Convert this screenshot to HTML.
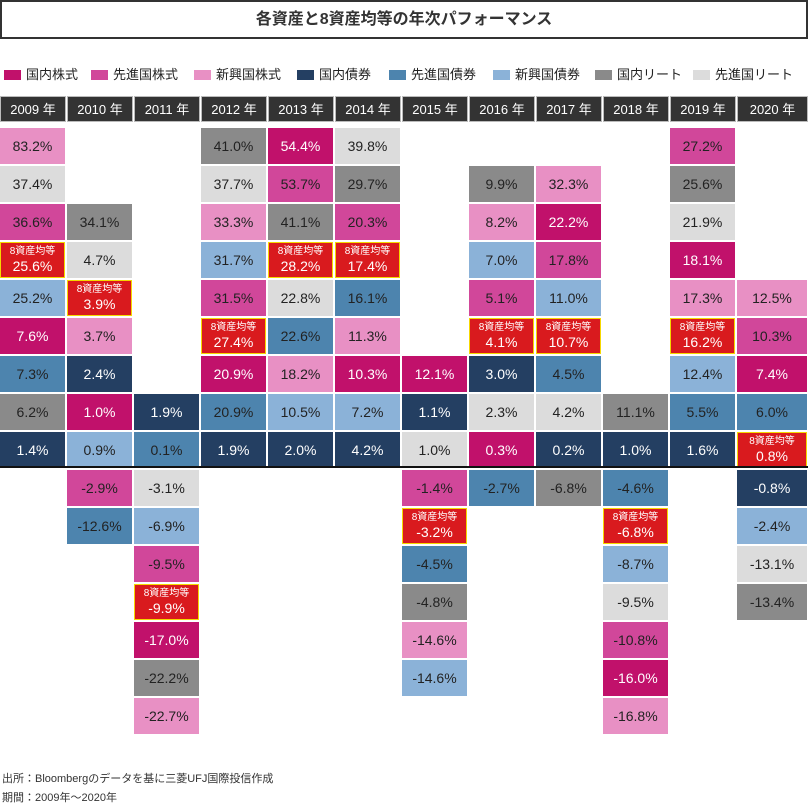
<!DOCTYPE html>
<html><head><meta charset="utf-8">
<style>
*{margin:0;padding:0;box-sizing:border-box}
body{width:808px;height:806px;background:#fff;position:relative;overflow:hidden;font-family:"Liberation Sans","Noto Sans CJK JP",sans-serif;color:#222}
.title{position:absolute;left:0;top:0;width:808px;height:39px;border:2px solid #333;text-align:center;line-height:35px;font-size:16px;font-weight:bold;color:#333}
.lg{position:absolute;top:66px;font-size:13px;line-height:18px;color:#222;white-space:nowrap}
.lg i{display:inline-block;width:17px;height:10px;margin-right:5px;vertical-align:-1px}
.hd{position:absolute;top:96px;height:26px;width:66px;background:#333;color:#fff;font-size:13px;text-align:center;line-height:25px;border:1px solid #bbb}
.col{position:absolute;width:65px}
.p{position:absolute;left:0;top:128px;width:65px}
.n{position:absolute;left:0;top:470px;width:65px}
.c{height:36px;margin-bottom:2px;text-align:center;line-height:36px;font-size:14px;color:#222}
.A{background:#c1116b;color:#fff}.B{background:#d1479a}.C{background:#e890c4}.D{background:#243f62;color:#fff}
.E{background:#4d84ae}.F{background:#8bb2d8}.G{background:#8a8a8a}.H{background:#dcdcdc}
.X{background:#d91a1e;color:#fff;border:1px solid #f5d800;line-height:15px;padding-top:2px}
.X s{display:block;text-decoration:none;font-size:10px;line-height:14px}
.zero{position:absolute;left:0;top:466px;width:808px;height:2px;background:#111}
.ft{position:absolute;left:2px;font-size:11px;color:#333}
</style></head><body>
<div class="title">各資産と8資産均等の年次パフォーマンス</div>
<div class="lg" style="left:4px"><i style="background:#c1116b"></i>国内株式</div>
<div class="lg" style="left:91px"><i style="background:#d1479a"></i>先進国株式</div>
<div class="lg" style="left:194px"><i style="background:#e890c4"></i>新興国株式</div>
<div class="lg" style="left:297px"><i style="background:#243f62"></i>国内債券</div>
<div class="lg" style="left:389px"><i style="background:#4d84ae"></i>先進国債券</div>
<div class="lg" style="left:493px"><i style="background:#8bb2d8"></i>新興国債券</div>
<div class="lg" style="left:595px"><i style="background:#8a8a8a"></i>国内リート</div>
<div class="lg" style="left:693px"><i style="background:#dcdcdc"></i>先進国リート</div>

<div class="hd" style="left:0">2009 年</div>
<div class="hd" style="left:67px">2010 年</div>
<div class="hd" style="left:134px">2011 年</div>
<div class="hd" style="left:201px">2012 年</div>
<div class="hd" style="left:268px">2013 年</div>
<div class="hd" style="left:335px">2014 年</div>
<div class="hd" style="left:402px">2015 年</div>
<div class="hd" style="left:469px">2016 年</div>
<div class="hd" style="left:536px">2017 年</div>
<div class="hd" style="left:603px">2018 年</div>
<div class="hd" style="left:670px">2019 年</div>
<div class="hd" style="left:737px;width:71px">2020 年</div>

<div class="col" style="left:0"><div class="p">
<div class="c C">83.2%</div><div class="c H">37.4%</div><div class="c B">36.6%</div><div class="c X"><s>8資産均等</s>25.6%</div><div class="c F">25.2%</div><div class="c A">7.6%</div><div class="c E">7.3%</div><div class="c G">6.2%</div><div class="c D">1.4%</div>
</div></div>

<div class="col" style="left:67px"><div class="p" style="padding-top:76px">
<div class="c G">34.1%</div><div class="c H">4.7%</div><div class="c X"><s>8資産均等</s>3.9%</div><div class="c C">3.7%</div><div class="c D">2.4%</div><div class="c A">1.0%</div><div class="c F">0.9%</div>
</div><div class="n"><div class="c B">-2.9%</div><div class="c E">-12.6%</div></div></div>

<div class="col" style="left:134px"><div class="p" style="padding-top:266px">
<div class="c D">1.9%</div><div class="c E">0.1%</div>
</div><div class="n"><div class="c H">-3.1%</div><div class="c F">-6.9%</div><div class="c B">-9.5%</div><div class="c X"><s>8資産均等</s>-9.9%</div><div class="c A">-17.0%</div><div class="c G">-22.2%</div><div class="c C">-22.7%</div></div></div>

<div class="col" style="left:201px"><div class="p">
<div class="c G">41.0%</div><div class="c H">37.7%</div><div class="c C">33.3%</div><div class="c F">31.7%</div><div class="c B">31.5%</div><div class="c X"><s>8資産均等</s>27.4%</div><div class="c A">20.9%</div><div class="c E">20.9%</div><div class="c D">1.9%</div>
</div></div>

<div class="col" style="left:268px"><div class="p">
<div class="c A">54.4%</div><div class="c B">53.7%</div><div class="c G">41.1%</div><div class="c X"><s>8資産均等</s>28.2%</div><div class="c H">22.8%</div><div class="c E">22.6%</div><div class="c C">18.2%</div><div class="c F">10.5%</div><div class="c D">2.0%</div>
</div></div>

<div class="col" style="left:335px"><div class="p">
<div class="c H">39.8%</div><div class="c G">29.7%</div><div class="c B">20.3%</div><div class="c X"><s>8資産均等</s>17.4%</div><div class="c E">16.1%</div><div class="c C">11.3%</div><div class="c A">10.3%</div><div class="c F">7.2%</div><div class="c D">4.2%</div>
</div></div>

<div class="col" style="left:402px"><div class="p" style="padding-top:228px">
<div class="c A">12.1%</div><div class="c D">1.1%</div><div class="c H">1.0%</div>
</div><div class="n"><div class="c B">-1.4%</div><div class="c X"><s>8資産均等</s>-3.2%</div><div class="c E">-4.5%</div><div class="c G">-4.8%</div><div class="c C">-14.6%</div><div class="c F">-14.6%</div></div></div>

<div class="col" style="left:469px"><div class="p" style="padding-top:38px">
<div class="c G">9.9%</div><div class="c C">8.2%</div><div class="c F">7.0%</div><div class="c B">5.1%</div><div class="c X"><s>8資産均等</s>4.1%</div><div class="c D">3.0%</div><div class="c H">2.3%</div><div class="c A">0.3%</div>
</div><div class="n"><div class="c E">-2.7%</div></div></div>

<div class="col" style="left:536px"><div class="p" style="padding-top:38px">
<div class="c C">32.3%</div><div class="c A">22.2%</div><div class="c B">17.8%</div><div class="c F">11.0%</div><div class="c X"><s>8資産均等</s>10.7%</div><div class="c E">4.5%</div><div class="c H">4.2%</div><div class="c D">0.2%</div>
</div><div class="n"><div class="c G">-6.8%</div></div></div>

<div class="col" style="left:603px"><div class="p" style="padding-top:266px">
<div class="c G">11.1%</div><div class="c D">1.0%</div>
</div><div class="n"><div class="c E">-4.6%</div><div class="c X"><s>8資産均等</s>-6.8%</div><div class="c F">-8.7%</div><div class="c H">-9.5%</div><div class="c B">-10.8%</div><div class="c A">-16.0%</div><div class="c C">-16.8%</div></div></div>

<div class="col" style="left:670px"><div class="p">
<div class="c B">27.2%</div><div class="c G">25.6%</div><div class="c H">21.9%</div><div class="c A">18.1%</div><div class="c C">17.3%</div><div class="c X"><s>8資産均等</s>16.2%</div><div class="c F">12.4%</div><div class="c E">5.5%</div><div class="c D">1.6%</div>
</div></div>

<div class="col" style="left:737px;width:70px"><div class="p" style="padding-top:152px;width:70px">
<div class="c C">12.5%</div><div class="c B">10.3%</div><div class="c A">7.4%</div><div class="c E">6.0%</div><div class="c X"><s>8資産均等</s>0.8%</div>
</div><div class="n" style="width:70px"><div class="c D">-0.8%</div><div class="c F">-2.4%</div><div class="c H">-13.1%</div><div class="c G">-13.4%</div></div></div>

<div class="zero"></div>
<div class="ft" style="top:770px">出所：Bloombergのデータを基に三菱UFJ国際投信作成</div>
<div class="ft" style="top:789px">期間：2009年～2020年</div>
</body></html>
